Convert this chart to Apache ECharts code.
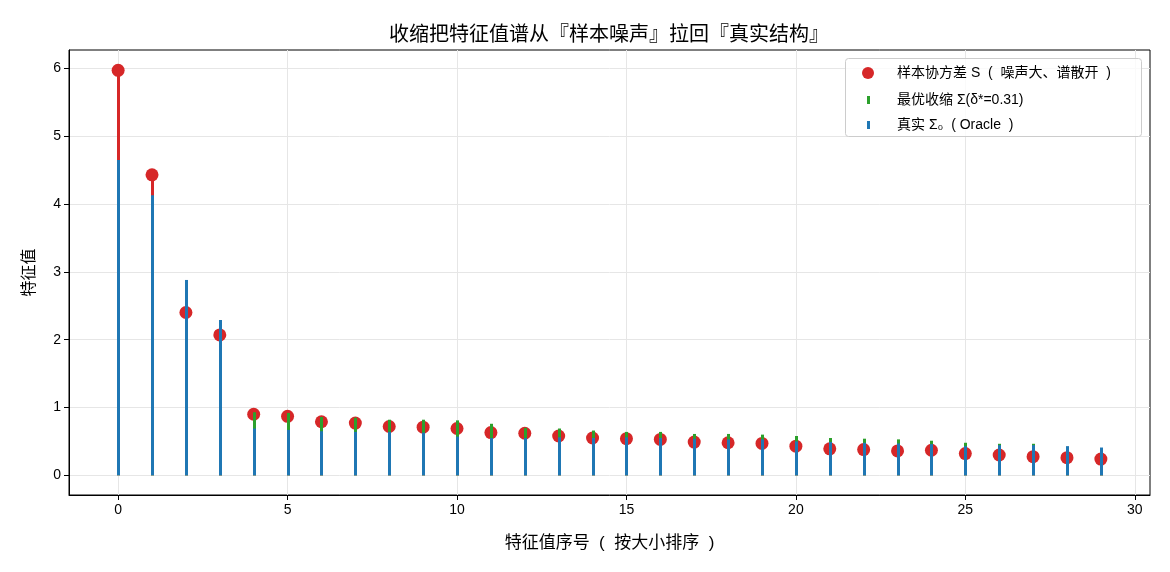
<!DOCTYPE html>
<html>
<head>
<meta charset="utf-8">
<script src="https://cdn.jsdelivr.net/npm/echarts@6/dist/echarts.min.js"></script>
<style>html,body{margin:0;padding:0;background:#fff}#c{width:1170px;height:572px}</style>
</head>
<body>
<div id="c"></div>
<script>
const indices = [0,1,2,3,4,5,6,7,8,9,10,11,12,13,14,15,16,17,18,19,20,21,22,23,24,25,26,27,28,29];
const sampleEig = [5.97,4.43,2.40,2.07,0.90,0.87,0.79,0.77,0.72,0.71,0.69,0.63,0.62,0.58,0.55,0.54,0.53,0.49,0.48,0.47,0.43,0.39,0.38,0.36,0.37,0.32,0.30,0.275,0.26,0.24];
const shrinkEig = [4.41,3.35,1.95,1.72,0.93,0.92,0.86,0.85,0.82,0.82,0.81,0.76,0.70,0.69,0.66,0.64,0.64,0.61,0.61,0.60,0.58,0.55,0.54,0.53,0.51,0.48,0.465,0.465,0.42,0.40];
const oracleEig = [4.65,4.13,2.88,2.29,0.69,0.67,0.65,0.64,0.64,0.63,0.57,0.55,0.55,0.56,0.55,0.56,0.55,0.54,0.53,0.53,0.50,0.49,0.48,0.47,0.46,0.43,0.445,0.445,0.43,0.41];
const xTicks = [0,5,10,15,20,25,30];
const yTicks = [0,1,2,3,4,5,6];
const names = ['样本协方差 S  (  噪声大、谱散开  )','最优收缩 Σ(δ*=0.31)','真实 Σ₀  ( Oracle  )'];

const FONT = '"Liberation Sans", "Noto Sans CJK SC", sans-serif';
const RED = '#d62728', GREEN = '#2ca02c', BLUE = '#1f77b4';

function pairs(vals){ return indices.map((x,i)=>[x, vals[i]]); }
function stemSeries(name, vals, color, z){
  return {
    type:'custom', name:name, z:z, silent:true,
    data: pairs(vals),
    renderItem:(params, api)=>{
      const p0 = api.coord([api.value(0), 0]);
      const p1 = api.coord([api.value(0), api.value(1)]);
      const x = Math.round(p0[0]) + 0.5;
      return {type:'line', shape:{x1:x, y1:p0[1], x2:x, y2:p1[1]},
              style:{stroke:color, lineWidth:3}};
    }
  };
}

const chart = echarts.init(document.getElementById('c'), null, {renderer:'canvas'});
const legendBase = {orient:'vertical', itemGap:0, padding:0, selectedMode:false, z:60};
const legendText = {fontFamily:FONT, fontSize:14, color:'#000'};
chart.setOption({
  animation:false,
  backgroundColor:'#fff',
  title:{text:'收缩把特征值谱从『样本噪声』拉回『真实结构』', left:604, top:20, textAlign:'center',
    textStyle:{fontFamily:FONT, fontSize:20, fontWeight:'normal', color:'#000'}},
  grid:{left:69, right:20, top:50, bottom:77, show:true, borderColor:'#000', borderWidth:1, backgroundColor:'transparent'},
  graphic:[{type:'rect', left:845, top:58, shape:{width:296, height:78, r:3},
    style:{fill:'rgba(255,255,255,0.8)', stroke:'#cccccc', lineWidth:1}, z:50}],
  legend:[
    Object.assign({}, legendBase, {data:[{name:names[0], icon:'circle'}], left:862, top:66, itemWidth:12, itemHeight:12,
      textStyle:Object.assign({padding:[0,0,0,18]}, legendText)}),
    Object.assign({}, legendBase, {data:[{name:names[1], icon:'rect'}], left:867, top:93, itemWidth:3, itemHeight:8,
      textStyle:Object.assign({padding:[0,0,0,22]}, legendText)}),
    Object.assign({}, legendBase, {data:[{name:names[2], icon:'rect'}], left:867, top:118, itemWidth:3, itemHeight:8,
      textStyle:Object.assign({padding:[0,0,0,22]}, legendText)})
  ],
  xAxis:{type:'value', min:-1.45, max:30.45,
    name:'特征值序号  (  按大小排序  )', nameLocation:'middle', nameGap:40,
    nameTextStyle:{fontFamily:FONT, fontSize:17, color:'#000'},
    axisLine:{show:true, onZero:false, lineStyle:{color:'#000', width:1}},
    axisTick:{show:true, length:5, customValues:xTicks, lineStyle:{color:'#000'}},
    axisLabel:{customValues:xTicks, fontFamily:FONT, fontSize:14, color:'#000', margin:8},
    splitLine:{show:true, lineStyle:{color:'#e6e6e6', width:1}}},
  yAxis:{type:'value', min:-0.29, max:6.27,
    name:'特征值', nameLocation:'middle', nameGap:31, nameRotate:90,
    nameTextStyle:{fontFamily:FONT, fontSize:16, color:'#000'},
    axisLine:{show:true, onZero:false, lineStyle:{color:'#000', width:1}},
    axisTick:{show:true, length:5, customValues:yTicks, lineStyle:{color:'#000'}},
    axisLabel:{customValues:yTicks, fontFamily:FONT, fontSize:14, color:'#000', margin:8},
    splitLine:{show:true, lineStyle:{color:'#e6e6e6', width:1}}},
  series:[
    stemSeries('sampleStem', sampleEig, RED, 2),
    {type:'scatter', name:names[0], z:3, data:pairs(sampleEig), symbol:'circle', symbolSize:13,
      itemStyle:{color:RED, opacity:1}},
    Object.assign(stemSeries(names[1], shrinkEig, GREEN, 4), {itemStyle:{color:GREEN}}),
    Object.assign(stemSeries(names[2], oracleEig, BLUE, 5), {itemStyle:{color:BLUE}})
  ]
});
</script>
</body>
</html>
